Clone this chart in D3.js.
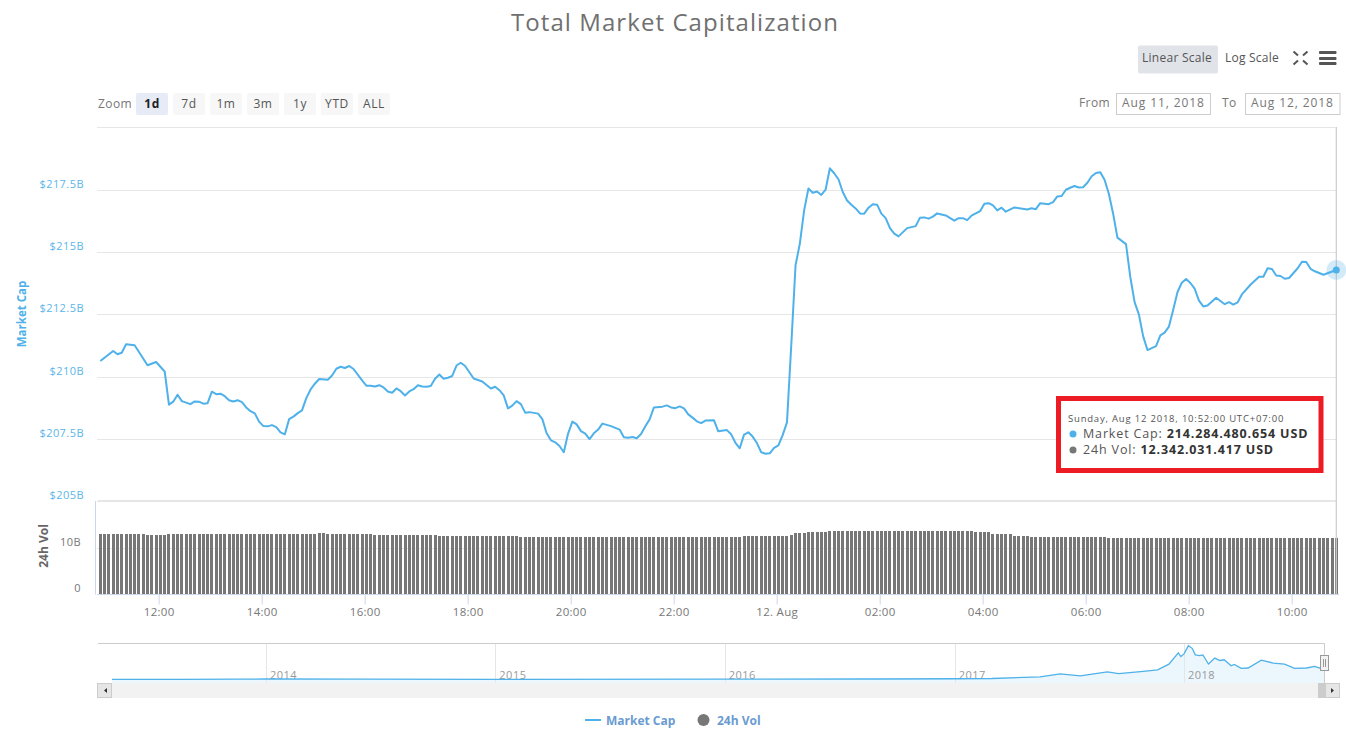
<!DOCTYPE html>
<html>
<head>
<meta charset="utf-8">
<title>Total Market Capitalization</title>
<script src="https://cdn.jsdelivr.net/npm/d3@7"></script>
<style>
    html, body { margin: 0; padding: 0; background: #fff; overflow: hidden; }
    svg { display: block; }
    text { font-family: "Open Sans", sans-serif; fill: #666; }
    .domain { display: none; }
</style>
</head>
<body>
<div id="chart"></div>
<script>
// Sample numbers (5 minute steps counted from Aug 11 10:52) and market cap in $B
const capSamples = [
    0, 3, 4, 5, 6, 8, 11, 13, 15, 16, 17, 18, 19, 21, 22, 23, 24, 25, 26, 27, 28, 29, 30, 31, 32, 33, 34, 35, 36, 37,
    38, 39, 40, 41, 42, 43, 44, 45, 46, 47, 48, 49, 50, 51, 53, 54, 55, 56, 57, 58, 59, 61, 62, 63, 64, 65, 66, 67, 68, 69,
    70, 71, 72, 73, 74, 75, 76, 77, 78, 79, 80, 81, 82, 83, 84, 85, 87, 89, 91, 92, 93, 94, 95, 96, 97, 98, 99, 100, 102, 103,
    104, 105, 106, 107, 108, 109, 110, 111, 112, 113, 114, 115, 116, 117, 119, 121, 122, 123, 124, 125, 126, 127, 128, 129, 131, 132, 133, 134, 135, 136,
    137, 138, 139, 140, 141, 143, 144, 146, 147, 148, 149, 150, 151, 152, 153, 154, 155, 156, 157, 158, 159, 160, 161, 162, 163, 164, 165, 166, 167, 168,
    169, 170, 171, 172, 173, 174, 175, 176, 177, 178, 179, 180, 181, 182, 183, 184, 185, 186, 188, 190, 191, 192, 193, 194, 195, 197, 199, 200, 201, 202,
    203, 205, 206, 207, 208, 209, 210, 211, 213, 216, 217, 218, 219, 221, 222, 223, 224, 225, 226, 227, 228, 229, 230, 231, 232, 233, 234, 235, 236, 237,
    239, 240, 241, 242, 243, 244, 246, 247, 248, 249, 250, 251, 252, 253, 254, 255, 256, 257, 258, 260, 262, 263, 264, 265, 266, 268, 270, 271, 272, 273,
    274, 275, 276, 277, 279, 280, 281, 282, 283, 285, 288
];
const capValues = [
    210.63, 211.03, 210.90, 210.96, 211.30, 211.26, 210.46, 210.59, 210.21, 208.88, 209.00, 209.28, 209.02, 208.90, 209.01, 209.00, 208.92, 208.94, 209.40, 209.30, 209.32, 209.22, 209.06, 209.01, 209.06, 208.98, 208.77, 208.62, 208.53, 208.20,
    208.02, 208.01, 208.06, 207.98, 207.77, 207.69, 208.30, 208.40, 208.54, 208.65, 209.14, 209.49, 209.72, 209.91, 209.88, 210.05, 210.32, 210.40, 210.35, 210.43, 210.31, 209.85, 209.64, 209.64, 209.61, 209.66, 209.57, 209.41, 209.36, 209.53,
    209.42, 209.25, 209.41, 209.50, 209.66, 209.61, 209.60, 209.63, 209.92, 210.09, 209.92, 209.96, 210.03, 210.45, 210.56, 210.43, 209.93, 209.81, 209.53, 209.60, 209.46, 209.25, 208.73, 208.84, 209.02, 208.90, 208.56, 208.58, 208.52, 208.30,
    207.73, 207.45, 207.37, 207.22, 206.97, 207.72, 208.20, 208.09, 207.82, 207.72, 207.50, 207.73, 207.88, 208.12, 208.02, 207.88, 207.57, 207.55, 207.58, 207.53, 207.70, 208.01, 208.29, 208.77, 208.80, 208.85, 208.77, 208.74, 208.81, 208.73,
    208.49, 208.36, 208.21, 208.14, 208.24, 208.25, 207.81, 207.86, 207.69, 207.35, 207.13, 207.68, 207.77, 207.60, 207.34, 206.97, 206.91, 206.93, 207.15, 207.25, 207.66, 208.17, 211.26, 214.47, 215.34, 216.67, 217.55, 217.38, 217.43, 217.29,
    217.50, 218.36, 218.16, 217.92, 217.41, 217.07, 216.90, 216.75, 216.55, 216.54, 216.78, 216.92, 216.90, 216.54, 216.36, 215.96, 215.74, 215.63, 215.96, 216.04, 216.38, 216.39, 216.34, 216.42, 216.55, 216.47, 216.26, 216.36, 216.36, 216.28,
    216.46, 216.64, 216.94, 216.96, 216.87, 216.67, 216.78, 216.62, 216.79, 216.71, 216.76, 216.72, 216.96, 216.92, 217.00, 217.23, 217.25, 217.50, 217.58, 217.65, 217.59, 217.60, 217.78, 218.04, 218.17, 218.20, 217.90, 217.34, 216.54, 215.58,
    215.32, 214.00, 212.99, 212.50, 211.62, 211.07, 211.23, 211.66, 211.77, 212.01, 212.69, 213.40, 213.77, 213.92, 213.76, 213.53, 213.05, 212.82, 212.86, 213.17, 212.91, 212.99, 212.89, 212.98, 213.30, 213.69, 214.01, 214.01, 214.35, 214.32,
    214.06, 214.04, 213.93, 213.96, 214.35, 214.61, 214.60, 214.33, 214.23, 214.09, 214.28
];

// 24h volume in $B, one row per hour of 5 minute bars
const volValues = [
    13.13, 13.13, 13.13, 13.13, 13.13, 13.13, 13.13, 13.13, 13.13, 13.13, 13.13, 12.90,
    12.90, 12.90, 12.90, 12.90, 13.13, 13.13, 13.13, 13.13, 13.13, 13.13, 13.13, 13.13,
    13.13, 13.13, 13.13, 13.13, 13.13, 13.13, 13.13, 13.13, 13.13, 13.13, 13.13, 13.13,
    13.13, 13.13, 13.13, 13.13, 13.13, 13.13, 13.13, 13.13, 13.13, 13.13, 13.13, 13.13,
    13.13, 13.13, 13.20, 13.35, 13.35, 13.13, 13.13, 13.13, 13.13, 13.13, 13.13, 13.13,
    13.13, 13.13, 13.13, 13.13, 12.98, 12.98, 12.98, 12.98, 12.98, 12.98, 12.98, 12.98,
    12.98, 12.98, 12.98, 12.98, 12.98, 12.98, 12.98, 12.69, 12.69, 12.69, 12.69, 12.69,
    12.69, 12.69, 12.69, 12.69, 12.69, 12.69, 12.69, 12.69, 12.69, 12.69, 12.69, 12.69,
    12.69, 12.69, 12.47, 12.47, 12.47, 12.47, 12.47, 12.47, 12.47, 12.47, 12.47, 12.47,
    12.47, 12.47, 12.47, 12.47, 12.47, 12.47, 12.47, 12.47, 12.47, 12.47, 12.47, 12.47,
    12.47, 12.47, 12.47, 12.47, 12.47, 12.47, 12.47, 12.47, 12.47, 12.47, 12.47, 12.47,
    12.47, 12.47, 12.47, 12.47, 12.47, 12.47, 12.47, 12.47, 12.47, 12.47, 12.47, 12.47,
    12.47, 12.47, 12.47, 12.47, 12.47, 12.47, 12.69, 12.69, 12.69, 12.69, 12.69, 12.69,
    12.69, 12.69, 12.69, 12.69, 12.69, 12.98, 13.35, 13.28, 13.28, 13.57, 13.57, 13.57,
    13.57, 13.57, 13.79, 13.79, 13.79, 13.79, 13.79, 13.79, 13.79, 13.79, 13.79, 13.79,
    13.79, 13.79, 13.79, 13.79, 13.79, 13.79, 13.79, 13.79, 13.79, 13.79, 13.79, 13.79,
    13.79, 13.79, 13.79, 13.79, 13.79, 13.79, 13.79, 13.79, 13.79, 13.79, 13.79, 13.79,
    13.46, 13.46, 13.46, 13.46, 13.02, 13.02, 13.02, 13.02, 13.02, 12.69, 12.69, 12.69,
    12.69, 12.47, 12.47, 12.47, 12.47, 12.47, 12.47, 12.47, 12.47, 12.47, 12.47, 12.47,
    12.47, 12.47, 12.47, 12.47, 12.47, 12.47, 12.47, 12.25, 12.25, 12.25, 12.25, 12.25,
    12.25, 12.25, 12.25, 12.25, 12.25, 12.25, 12.25, 12.25, 12.25, 12.25, 12.25, 12.34,
    12.34, 12.34, 12.34, 12.34, 12.34, 12.34, 12.34, 12.34, 12.34, 12.34, 12.34, 12.34,
    12.34, 12.34, 12.34, 12.34, 12.34, 12.34, 12.34, 12.34, 12.34, 12.34, 12.34, 12.34,
    12.34, 12.34, 12.34, 12.34, 12.34, 12.34, 12.34, 12.34, 12.34, 12.34, 12.34, 12.34,
    12.34
];

// Navigator overview, market cap in $B over the whole history
const navDates = [
    '2013-05-01', '2013-08-16', '2013-11-20', '2014-01-01', '2014-06-01', '2015-01-01', '2016-01-01', '2016-09-01',
    '2017-01-01', '2017-03-01', '2017-05-17', '2017-06-18', '2017-07-20', '2017-09-01', '2017-09-19', '2017-10-24',
    '2017-11-20', '2017-12-08', '2017-12-23', '2017-12-27', '2018-01-01', '2018-01-08', '2018-01-14', '2018-01-19',
    '2018-01-26', '2018-01-31', '2018-02-09', '2018-02-19', '2018-02-27', '2018-03-06', '2018-03-17', '2018-03-22',
    '2018-04-02', '2018-04-13', '2018-05-04', '2018-05-23', '2018-06-10', '2018-06-26', '2018-07-15', '2018-07-28',
    '2018-08-05', '2018-08-12'
];
const navValues = [
    1.5, 2, 10, 12, 8, 5, 7, 12,
    18, 25, 66, 139, 90, 188, 146, 195,
    237, 380, 659, 568, 634, 837, 772, 610,
    590, 610, 383, 529, 471, 488, 341, 373,
    276, 285, 480, 407, 383, 276, 285, 324,
    285, 290
];
const navYears = [2014, 2015, 2016, 2017, 2018];

// Tick labels
const capTicks = [205, 207.5, 210, 212.5, 215, 217.5];
const capGrid = [205, 207.5, 210, 212.5, 215, 217.5, 220];
const volTicks = [0, 10];
const timeHours = [[11, 12], [11, 14], [11, 16], [11, 18], [11, 20], [11, 22], [12, 0], [12, 2], [12, 4], [12, 6], [12, 8], [12, 10]];

const zoomButtons = ['1d', '7d', '1m', '3m', '1y', 'YTD', 'ALL'];
const tooltipDate = 'Sunday, Aug 12 2018, 10:52:00 UTC+07:00';
const tooltipRows = [['Market Cap: ', '214.284.480.654 USD'], ['24h Vol: ', '12.342.031.417 USD']];

const BLUE = '#4eb1e9';
const BAR = '#777';
const GRID = '#e6e6e6';
const AXIS = '#ccd6eb';

const startTime = new Date(2018, 7, 11, 10, 52);
const sampleTime = n => new Date(startTime.getTime() + n * 5 * 60000);

const svg = d3.select('#chart').append('svg')
    .attr('width', 1346)
    .attr('height', 732);

// Scales
const x = d3.scaleTime()
    .domain([startTime, sampleTime(288)])
    .range([100.3, 1336.3]);
const yCap = d3.scaleLinear().domain([205, 220]).range([501.4, 127.4]);
const yVol = d3.scaleLinear().domain([0, 20]).range([594, 502.6]);
const xNav = d3.scaleTime()
    .domain([new Date(2014, 0, 1), new Date(2018, 0, 1)])
    .range([266, 1184]);
const yNav = d3.scaleLinear().domain([0, 830]).range([679.5, 646]);

// Title
svg.append('text')
    .attr('x', 675)
    .attr('y', 31)
    .attr('text-anchor', 'middle')
    .style('font-size', '24px')
    .style('letter-spacing', '1.07px')
    .style('fill', '#707070')
    .text('Total Market Capitalization');

// Top right buttons
svg.append('rect')
    .attr('x', 1138).attr('y', 45.5).attr('width', 80).attr('height', 28).attr('rx', 2)
    .attr('fill', '#e0e3e8');
const smallText = (tx, ty, str, anchor = 'start') => svg.append('text')
    .attr('x', tx)
    .attr('y', ty)
    .attr('text-anchor', anchor)
    .style('font-size', '12px')
    .style('letter-spacing', '0.4px')
    .text(str);
smallText(1177, 62, 'Linear Scale', 'middle').style('fill', '#555').style('letter-spacing', '0.25px');
smallText(1252, 62, 'Log Scale', 'middle').style('fill', '#555').style('letter-spacing', '0.25px');

// Fullscreen and menu icons
svg.append('path')
    .attr('d', 'M1293.5 51.5l4.5 4M1307.5 51.5l-4.5 4M1293.5 64.5l4.5-4M1307.5 64.5l-4.5-4')
    .attr('fill', 'none')
    .attr('stroke', '#555')
    .attr('stroke-width', 2);
svg.append('g').selectAll('rect')
    .data([51, 57, 62])
    .enter().append('rect')
    .attr('x', 1319).attr('y', d => d).attr('width', 17.5).attr('height', 3).attr('rx', 1)
    .attr('fill', '#555');

// Range selector
smallText(98, 108, 'Zoom').style('fill', '#777');
const zoomGroup = svg.append('g').selectAll('g')
    .data(zoomButtons)
    .enter().append('g')
    .attr('transform', (d, i) => `translate(${136 + i * 37},93)`);
zoomGroup.append('rect')
    .attr('width', 32).attr('height', 22).attr('rx', 2)
    .attr('fill', (d, i) => i === 0 ? '#e6ebf5' : '#f7f7f7');
zoomGroup.append('text')
    .attr('x', 16)
    .attr('y', 15)
    .attr('text-anchor', 'middle')
    .style('font-size', '12px')
    .style('letter-spacing', '0.6px')
    .style('font-weight', (d, i) => i === 0 ? 700 : 400)
    .style('fill', (d, i) => i === 0 ? '#222' : '#555')
    .text(d => d);

// Date inputs
smallText(1079, 107, 'From').style('fill', '#777');
smallText(1222, 107, 'To').style('fill', '#777');
[[1116.5, 'Aug 11, 2018'], [1245.5, 'Aug 12, 2018']].forEach(([bx, label]) => {
    svg.append('rect')
        .attr('x', bx).attr('y', 93.5).attr('width', bx === 1116.5 ? 94 : 94.5).attr('height', 21)
        .attr('fill', '#fff')
        .attr('stroke', '#ccc');
    smallText(bx + 47, 107, label, 'middle').style('letter-spacing', '0.9px').style('fill', '#777');
});

// Market cap grid
svg.append('g').selectAll('line')
    .data(capGrid)
    .enter().append('line')
    .attr('x1', 97)
    .attr('x2', 1337)
    .attr('y1', d => Math.round(yCap(d)) + 0.5)
    .attr('y2', d => Math.round(yCap(d)) + 0.5)
    .attr('stroke', GRID);

// Market cap axis, labels sit above their grid lines
const capAxis = svg.append('g')
    .attr('transform', 'translate(84,0)')
    .call(d3.axisLeft(yCap).tickValues(capTicks).tickSize(0).tickPadding(0).tickFormat(d => `$${d}B`));
capAxis.selectAll('text')
    .attr('dy', '-2.5px')
    .style('font-size', '11px')
    .style('letter-spacing', '0.45px')
    .style('font-family', '"Open Sans", sans-serif')
    .style('fill', '#5ab6ea');

svg.append('text')
    .attr('transform', 'translate(26,314) rotate(-90)')
    .attr('text-anchor', 'middle')
    .style('font-size', '11.5px')
    .style('font-weight', 700)
    .style('fill', BLUE)
    .text('Market Cap');

// Volume pane
svg.append('rect')
    .attr('x', 98).attr('y', 500).attr('width', 1239).attr('height', 2)
    .attr('fill', GRID);
svg.append('line')
    .attr('x1', 97).attr('x2', 1337)
    .attr('y1', Math.round(yVol(10)) + 0.5).attr('y2', Math.round(yVol(10)) + 0.5)
    .attr('stroke', GRID);
svg.append('line')
    .attr('x1', 95.5).attr('x2', 95.5).attr('y1', 501).attr('y2', 594.5)
    .attr('stroke', AXIS);

// Bars snap to whole pixels so the gaps stay visible
const barWidth = 3;
svg.append('g').selectAll('rect')
    .data(volValues)
    .enter().append('rect')
    .attr('x', (d, i) => Math.round(x(sampleTime(i)) - barWidth / 2))
    .attr('y', d => Math.round(yVol(d)))
    .attr('width', barWidth)
    .attr('height', d => yVol(0) - Math.round(yVol(d)))
    .attr('fill', BAR);

const volAxis = svg.append('g')
    .attr('transform', 'translate(81,0)')
    .call(d3.axisLeft(yVol).tickValues(volTicks).tickSize(0).tickPadding(0).tickFormat(d => d === 0 ? '0' : `${d}B`));
volAxis.selectAll('text')
    .attr('dy', '-2.5px')
    .style('font-size', '11px')
    .style('letter-spacing', '0.45px')
    .style('font-family', '"Open Sans", sans-serif')
    .style('fill', '#777');

svg.append('text')
    .attr('transform', 'translate(48,546) rotate(-90)')
    .attr('text-anchor', 'middle')
    .style('font-size', '12px')
    .style('font-weight', 700)
    .style('fill', '#666')
    .text('24h Vol');

// Time axis
const timeTicks = timeHours.map(([day, hour]) => new Date(2018, 7, day, hour));
const timeAxis = svg.append('g')
    .attr('transform', 'translate(0,594.5)')
    .call(d3.axisBottom(x)
        .tickValues(timeTicks)
        .tickSize(10)
        .tickPadding(3)
        .tickFormat(d => d.getHours() === 0 ? '12. Aug' : d3.timeFormat('%H:%M')(d)));
timeAxis.selectAll('line').attr('stroke', AXIS);
timeAxis.selectAll('text')
    .style('font-size', '11.5px')
    .style('letter-spacing', '0.3px')
    .style('font-family', '"Open Sans", sans-serif')
    .style('fill', '#777');
svg.append('line')
    .attr('x1', 97).attr('x2', 1339).attr('y1', 594.5).attr('y2', 594.5)
    .attr('stroke', AXIS);

// Crosshair at the hovered point
svg.append('line')
    .attr('x1', x(sampleTime(288)))
    .attr('x2', x(sampleTime(288)))
    .attr('y1', 127)
    .attr('y2', 594)
    .attr('stroke', '#ccc')
    .attr('stroke-width', 1.2);

// Market cap line
const capLine = d3.line()
    .x(d => x(sampleTime(d)))
    .y((d, i) => yCap(capValues[i]));
svg.append('path')
    .attr('d', capLine(capSamples))
    .attr('fill', 'none')
    .attr('stroke', BLUE)
    .attr('stroke-width', 2)
    .attr('stroke-linejoin', 'round');

const lastCap = capValues[capValues.length - 1];
svg.append('circle')
    .attr('cx', x(sampleTime(288))).attr('cy', yCap(lastCap)).attr('r', 10)
    .attr('fill', BLUE).attr('fill-opacity', 0.25);
svg.append('circle')
    .attr('cx', x(sampleTime(288))).attr('cy', yCap(lastCap)).attr('r', 3.5)
    .attr('fill', BLUE);

// Tooltip with the red frame
svg.append('rect')
    .attr('x', 1058.5).attr('y', 398.5).attr('width', 262.5).attr('height', 72)
    .attr('fill', '#fff')
    .attr('stroke', '#ed1c24')
    .attr('stroke-width', 5);
svg.append('text')
    .attr('x', 1068)
    .attr('y', 422)
    .style('font-size', '9.5px')
    .style('letter-spacing', '0.8px')
    .style('fill', '#555')
    .text(tooltipDate);
tooltipRows.forEach(([label, value], i) => {
    const ty = 438 + i * 16;
    svg.append('circle')
        .attr('cx', 1073).attr('cy', ty - 4).attr('r', 3.5)
        .attr('fill', i === 0 ? BLUE : BAR);
    const t = svg.append('text')
        .attr('x', 1083)
        .attr('y', ty)
        .style('font-size', '12.5px')
        .style('letter-spacing', '0.85px')
        .style('fill', '#555');
    t.append('tspan').text(label);
    t.append('tspan').style('font-weight', 700).style('fill', '#333').text(value);
});

// Navigator
const navData = navDates.map((d, i) => ({ date: d3.timeParse('%Y-%m-%d')(d), value: navValues[i] }));
svg.append('path')
    .attr('d', d3.area().x(d => xNav(d.date)).y0(683).y1(d => yNav(d.value))(navData))
    .attr('fill', '#ecf6fd');
svg.append('g').selectAll('line')
    .data(navYears)
    .enter().append('line')
    .attr('x1', d => Math.round(xNav(new Date(d, 0, 1))) + 0.5)
    .attr('x2', d => Math.round(xNav(new Date(d, 0, 1))) + 0.5)
    .attr('y1', 644)
    .attr('y2', 683)
    .attr('stroke', GRID);
svg.append('g').selectAll('text')
    .data(navYears)
    .enter().append('text')
    .attr('x', d => xNav(new Date(d, 0, 1)) + 4)
    .attr('y', 679)
    .style('font-size', '11px')
    .style('letter-spacing', '0.5px')
    .style('fill', '#999')
    .text(d => d);
svg.append('path')
    .attr('d', d3.line().x(d => xNav(d.date)).y(d => yNav(d.value))(navData))
    .attr('fill', 'none')
    .attr('stroke', BLUE)
    .attr('stroke-width', 1.3);
svg.append('line')
    .attr('x1', 98).attr('x2', 1324.5).attr('y1', 643.5).attr('y2', 643.5)
    .attr('stroke', '#ccc');
svg.append('line')
    .attr('x1', 1324.5).attr('x2', 1324.5).attr('y1', 643.5).attr('y2', 683)
    .attr('stroke', '#ccc');

// Scrollbar
svg.append('rect')
    .attr('x', 97).attr('y', 683).attr('width', 1242).attr('height', 15)
    .attr('fill', '#f2f2f2');
svg.append('rect')
    .attr('x', 1318).attr('y', 683).attr('width', 7).attr('height', 15)
    .attr('fill', '#ccc');
[[97.5, 'M107 688v5l-3-2.5z'], [1325.5, 'M1331 688v5l3-2.5z']].forEach(([bx, arrow]) => {
    svg.append('rect')
        .attr('x', bx).attr('y', 683.5).attr('width', 14).attr('height', 14)
        .attr('fill', '#e6e6e6')
        .attr('stroke', '#ccc');
    svg.append('path').attr('d', arrow).attr('fill', '#333');
});

// Navigator handle
svg.append('rect')
    .attr('x', 1320.5).attr('y', 655.5).attr('width', 8).attr('height', 15)
    .attr('fill', '#f2f2f2')
    .attr('stroke', '#999');
svg.append('path')
    .attr('d', 'M1323.5 659v8M1325.5 659v8')
    .attr('stroke', '#999');

// Legend
svg.append('line')
    .attr('x1', 585).attr('x2', 601).attr('y1', 720).attr('y2', 720)
    .attr('stroke', BLUE)
    .attr('stroke-width', 2);
svg.append('text')
    .attr('x', 606).attr('y', 724.5)
    .style('font-size', '12px')
    .style('font-weight', 700)
    .style('fill', '#6a9bd1')
    .text('Market Cap');
svg.append('circle')
    .attr('cx', 703.5).attr('cy', 720).attr('r', 6)
    .attr('fill', BAR);
svg.append('text')
    .attr('x', 717).attr('y', 724.5)
    .style('font-size', '12px')
    .style('font-weight', 700)
    .style('fill', '#6a9bd1')
    .text('24h Vol');
</script>
</body>
</html>
